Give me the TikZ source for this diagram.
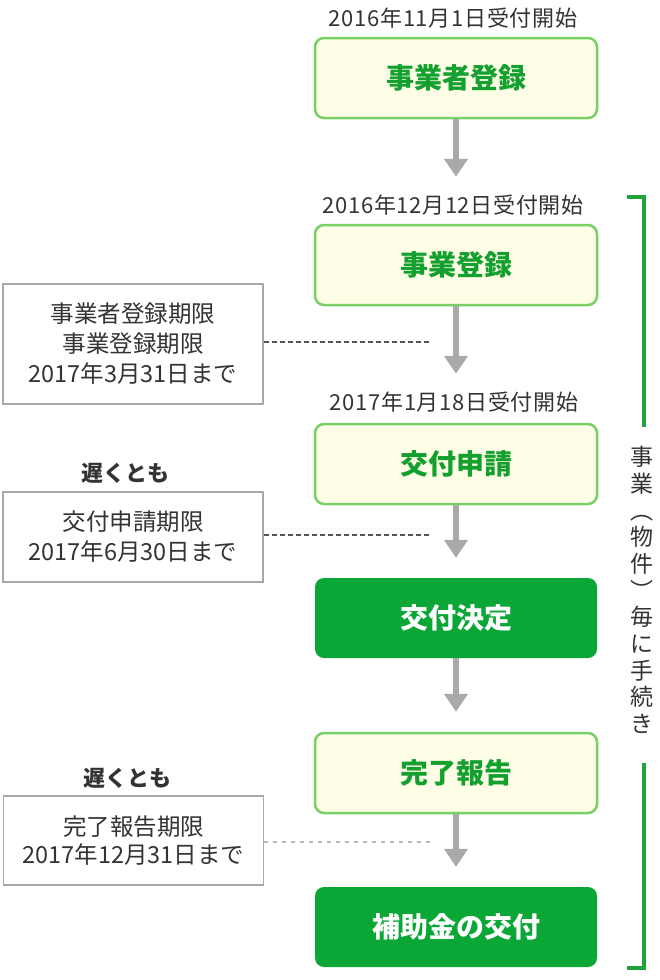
\documentclass[tikz,border=0pt]{standalone}
\usepackage{fontspec}
\setmainfont{Noto Sans CJK JP}
\usetikzlibrary{arrows.meta}
\definecolor{txtgray}{HTML}{333333}
\definecolor{lgreenborder}{HTML}{78D066}
\definecolor{lgreenfill}{HTML}{FEFDE6}
\definecolor{gtext}{HTML}{14A02E}
\definecolor{gfill}{HTML}{0AA636}
\definecolor{brgreen}{HTML}{1FA33A}
\definecolor{arrgray}{HTML}{A9A9A9}
\definecolor{sideborder}{HTML}{A8A8A8}
\definecolor{dashdark}{HTML}{555555}
\definecolor{dashlight}{HTML}{BBBBBB}
\tikzset{
  lightbox/.style={draw=lgreenborder, line width=2.5pt, fill=lgreenfill, rounded corners=9pt,
    minimum width=282pt, minimum height=80pt, inner sep=0pt, text=gtext,
    font=\fontsize{28pt}{32pt}\selectfont\bfseries},
  darkbox/.style={fill=gfill, rounded corners=9pt,
    minimum width=282pt, minimum height=80pt, inner sep=0pt, text=white,
    font=\fontsize{28pt}{32pt}\selectfont\bfseries},
  datelabel/.style={inner sep=0pt, text=txtgray, font=\fontsize{22pt}{25pt}\selectfont\addfontfeatures{LetterSpace=3}},
  sidebox/.style={draw=sideborder, line width=1.5pt, fill=white, minimum width=260pt,
    inner sep=0pt, text=txtgray, align=center},
  latelabel/.style={inner sep=0pt, text=txtgray, font=\fontsize{22pt}{25pt}\selectfont\bfseries},
  flowarrow/.style={draw=arrgray, line width=6pt, -{Triangle[width=23pt,length=18pt,fill=arrgray]}},
  darkdash/.style={draw=dashdark, line width=1.3pt, dash pattern=on 5pt off 3pt},
  lightdash/.style={draw=dashlight, line width=1.3pt, dash pattern=on 4pt off 5pt},
  bracket/.style={draw=brgreen, line width=3.5pt},
}
\begin{document}
\begin{tikzpicture}[x=1pt,y=-1pt]
\useasboundingbox (0,0) rectangle (660,980);
% dates
\node[datelabel] (d1) at (453,18) {2016年11月1日受付開始};
\node[datelabel] (d2) at (453,205) {2016年12月12日受付開始};
\node[datelabel] (d3) at (454,402) {2017年1月18日受付開始};
% main boxes
\node[lightbox] (b1) at (456,78) {事業者登録};
\node[lightbox] (b2) at (456,265) {事業登録};
\node[lightbox] (b3) at (456,464) {交付申請};
\node[darkbox]  (b4) at (456,618) {交付決定};
\node[lightbox] (b5) at (456,773) {完了報告};
\node[darkbox]  (b6) at (456,927) {補助金の交付};
% arrows
\draw[flowarrow, shorten >=47pt] (b1) -- (b2);
\draw[flowarrow, shorten >=49pt] (b2) -- (b3);
\draw[flowarrow, shorten >=20pt] (b3) -- (b4);
\draw[flowarrow, shorten >=20pt] (b4) -- (b5);
\draw[flowarrow, shorten >=20pt] (b5) -- (b6);
% side boxes
\node[sidebox, minimum height=120pt, font=\fontsize{23.5pt}{30pt}\selectfont] (sa) at (133,344)
  {事業者登録期限\\事業登録期限\\2017年3月31日まで};
\node[latelabel] (la) at (125,473) {遅くとも};
\node[sidebox, minimum height=90pt, font=\fontsize{23.5pt}{30pt}\selectfont] (sb) at (133,537)
  {交付申請期限\\2017年6月30日まで};
\node[latelabel] (lb) at (127,778) {遅くとも};
\node[sidebox, minimum height=89pt, font=\fontsize{23.5pt}{28pt}\selectfont] (sc) at (133.5,840.5)
  {完了報告期限\\2017年12月31日まで};
% dashed leaders
\coordinate (ea) at (430,342);
\coordinate (eb) at (430,535);
\coordinate (ec) at (430,842);
\draw[darkdash] (sa.east |- ea) -- (ea);
\draw[darkdash] (sb.east |- eb) -- (eb);
\draw[lightdash] (sc.east |- ec) -- (ec);
% brackets
\draw[bracket] (627,197) -- (644,197) -- (644,427);
\draw[bracket] (644,763) -- (644,968) -- (627,968);
% vertical text
\node[inner sep=0pt, text=txtgray, align=center, font=\fontsize{23pt}{26.7pt}\selectfont] (vt) at (642,590)
  {事\\業\\︵\\物\\件\\︶\\毎\\に\\手\\続\\き};
\end{tikzpicture}
\end{document}
